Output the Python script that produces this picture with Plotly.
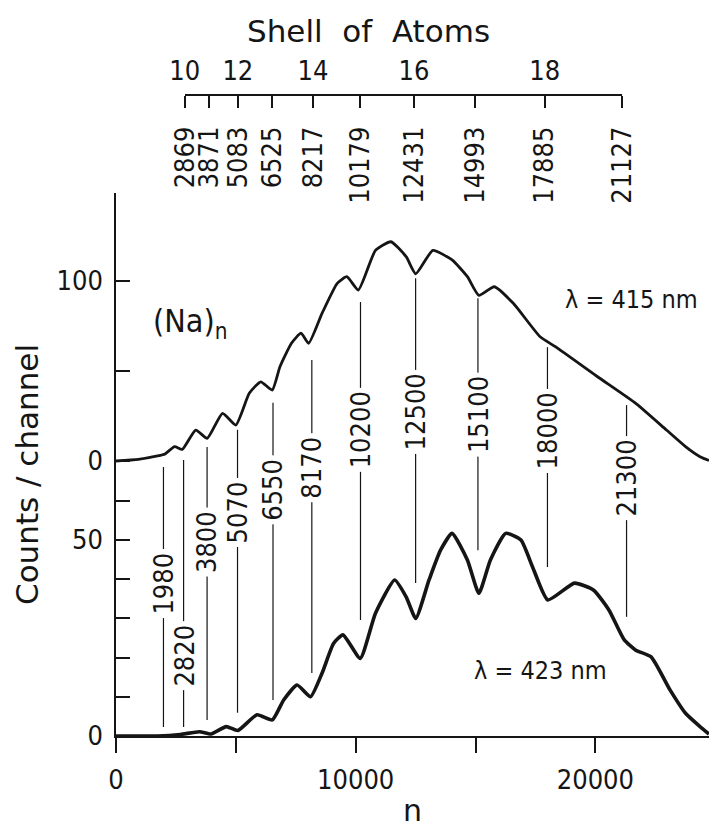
import plotly.graph_objects as go

# ---------------- data ----------------
# lambda = 415 nm spectrum (upper panel, counts/channel)
upper_n = [0, 930, 1730, 2045, 2445, 2765, 3325, 3805, 4445, 5000, 5560, 6040,
           6515, 6840, 7320, 7720, 8035, 8595, 9230, 9630, 10110, 10825, 11470,
           12105, 12505, 13220, 14020, 14660, 15140, 15780, 16575, 17695, 18330,
           20090, 21685, 22965, 23760, 24365, 24740]
upper_counts = [0, 0.9, 2.8, 3.9, 8, 6.5, 17.2, 12.6, 26.5, 20, 37.6, 44,
                39.4, 52.4, 65.4, 71, 65.4, 82, 98.7, 102.4, 95, 117, 121.8,
                113.5, 104, 117, 111.7, 102.4, 92, 96.8, 87.6, 69, 63.5,
                46.8, 32, 17.2, 8, 2.4, 0.3]

# lambda = 423 nm spectrum (lower panel, counts/channel)
lower_n = [0, 1725, 2690, 3485, 3965, 4600, 5085, 5880, 6520, 6995, 7555, 8115,
           8595, 9075, 9470, 10190, 10825, 11625, 12105, 12505, 13060, 13540,
           14020, 14660, 15140, 15620, 16260, 16895, 17375, 18015, 19130, 19930,
           20570, 21205, 21685, 22325, 23120, 23760, 24365, 24740]
lower_counts = [0, 0, 0.4, 1.1, 0.5, 2.4, 1.4, 5.4, 4.1, 9.2, 13, 10,
                16, 23.6, 25.8, 19.8, 31.3, 39.8, 35.5, 30, 39.8, 47.4,
                51.7, 44.9, 36.4, 44.9, 51.7, 50, 43.2, 34.7, 39, 37.2,
                32.1, 24.5, 21.9, 20.2, 11.7, 5.8, 2.4, 0.5]

# marked minima (n values)
marker_n = [1980, 2820, 3800, 5070, 6550, 8170, 10200, 12500, 15100, 18000, 21300]

# top axis: closed-shell cluster sizes and shell numbers
shell_n = [2869, 3871, 5083, 6525, 8217, 10179, 12431, 14993, 17885, 21127]
shell_label_n = [2869, 5083, 8217, 12431, 17885]
shell_number = [10, 12, 14, 16, 18]

# bottom / left axis ticks
x_ticks = [0, 5000, 10000, 15000, 20000]
x_tick_text = ["0", "", "10000", "", "20000"]
lower_ticks = [0, 10, 20, 30, 40, 50, 60]
lower_tick_text = ["0", "", "", "", "", "50", ""]
upper_ticks = [0, 50, 100]
upper_tick_text = ["0", "", "100"]

# ---------------- layout of marker lines (lower-axis units) ----------------
marker_top = [68.6, 70.4, 73.7, 78.1, 85.0, 95.9, 110.7, 116.8, 111.7, 99.2, 84.4]
marker_bottom = [2.3, 2.3, 4.1, 5.9, 9.2, 16.1, 29.6, 39.0, 47.4, 43.1, 30.4]
marker_label_y = [39.0, 20.4, 49.5, 56.9, 62.8, 68.4, 78.1, 82.7, 82.1, 77.8, 65.8]

FONT = "DejaVu Sans Condensed, DejaVu Sans, sans-serif"
TITLE_FONT = "DejaVu Sans, sans-serif"
INK = "#151515"
X_MAX = 24740
NUM = 27

fig = go.Figure()

fig.add_trace(go.Scatter(x=upper_n, y=upper_counts, xaxis="x", yaxis="y2",
                         mode="lines",
                         line=dict(color=INK, width=2.8, shape="spline",
                                   smoothing=0.5),
                         hoverinfo="skip"))
fig.add_trace(go.Scatter(x=lower_n, y=lower_counts, xaxis="x", yaxis="y",
                         mode="lines",
                         line=dict(color=INK, width=3.6, shape="spline",
                                   smoothing=0.5),
                         hoverinfo="skip"))

mx, my = [], []
for n, t, b in zip(marker_n, marker_top, marker_bottom):
    mx += [n, n, None]
    my += [b, t, None]
fig.add_trace(go.Scatter(x=mx, y=my, xaxis="x", yaxis="y", mode="lines",
                         line=dict(color=INK, width=1.2), hoverinfo="skip"))

# invisible traces so the top axes are drawn
fig.add_trace(go.Scatter(x=shell_n, y=[0] * len(shell_n), xaxis="x2", yaxis="y",
                         mode="markers", marker=dict(opacity=0), hoverinfo="skip"))
fig.add_trace(go.Scatter(x=shell_label_n, y=[0] * len(shell_label_n), xaxis="x3",
                         yaxis="y", mode="markers", marker=dict(opacity=0),
                         hoverinfo="skip"))

W, H = 709, 834
L, R, T, B = 116, 0, 95, 98
plot_w = W - L - R
plot_h = H - T - B
y_dom_top = (736 - 193) / plot_h
top_dom = [(2869 - 1) / X_MAX, (21127 + 1) / X_MAX]

axis_common = dict(showgrid=False, zeroline=False, showline=True,
                   linecolor=INK, linewidth=1.5, tickcolor=INK, tickwidth=1.5,
                   automargin=False)

fig.update_layout(
    width=W, height=H,
    margin=dict(l=L, r=R, t=T, b=B, autoexpand=False),
    showlegend=False,
    plot_bgcolor="rgba(0,0,0,0)", paper_bgcolor="white",
    font=dict(family=FONT, size=NUM, color=INK),
    xaxis=dict(range=[0, X_MAX], domain=[0, 1], anchor="y",
               tickmode="array", tickvals=x_ticks, ticktext=x_tick_text,
               ticks="outside", ticklen=15, ticklabelstandoff=4,
               title=dict(text="n", font=dict(size=30, family=TITLE_FONT),
                          standoff=6),
               **axis_common),
    yaxis=dict(range=[0, (736 - 193) / 3.92], domain=[0, y_dom_top], anchor="x",
               tickmode="array", tickvals=lower_ticks, ticktext=lower_tick_text,
               ticks="inside", ticklen=14, ticklabelstandoff=6,
               **axis_common),
    yaxis2=dict(range=[-(736 - 461) / 1.8, (461 - 193) / 1.8], overlaying="y",
                anchor="x", side="left",
                tickmode="array", tickvals=upper_ticks, ticktext=upper_tick_text,
                ticks="inside", ticklen=14, ticklabelstandoff=6,
                **axis_common),
    xaxis2=dict(range=[2869 - 1, 21127 + 1], domain=top_dom, anchor="free",
                position=1, side="bottom",
                tickmode="array", tickvals=shell_n,
                ticktext=[str(v) for v in shell_n],
                ticks="outside", ticklen=12, tickangle=-90,
                ticklabelstandoff=8, **axis_common),
    xaxis3=dict(range=[2869 - 1, 21127 + 1], domain=top_dom, anchor="free",
                position=1, side="top", showline=False, showgrid=False,
                zeroline=False, ticks="", automargin=False,
                tickmode="array", tickvals=shell_label_n,
                ticktext=[str(v) for v in shell_number],
                ticklabelstandoff=10),
)

ann = []
for n, yl in zip(marker_n, marker_label_y):
    ann.append(dict(x=n, y=yl, xref="x", yref="y", text=str(n), textangle=-90,
                    showarrow=False, bgcolor="white", borderpad=3,
                    xanchor="center", yanchor="middle", font=dict(size=NUM)))
ann.append(dict(x=3087, y=76.7, xref="x", yref="y2", text="(Na)<sub>n</sub>",
                showarrow=False, xanchor="center", yanchor="middle",
                font=dict(size=32)))
ann.append(dict(x=21527, y=90, xref="x", yref="y2", text="λ = 415 nm",
                showarrow=False, xanchor="center", yanchor="middle",
                font=dict(size=25)))
ann.append(dict(x=17730, y=16.6, xref="x", yref="y", text="λ = 423 nm",
                showarrow=False, xanchor="center", yanchor="middle",
                font=dict(size=25)))
ann.append(dict(x=(368 - L) / plot_w, y=1 + (T - 31) / plot_h,
                xref="paper", yref="paper", text="Shell  of  Atoms",
                showarrow=False, xanchor="center", yanchor="middle",
                font=dict(size=31, family=TITLE_FONT)))
ann.append(dict(x=(27 - L) / plot_w, y=(736 - 475) / plot_h,
                xref="paper", yref="paper", text="Counts / channel",
                textangle=-90, showarrow=False, xanchor="center",
                yanchor="middle", font=dict(size=31, family=TITLE_FONT)))
fig.update_layout(annotations=ann)

fig.write_html("out.html",
               config={"displayModeBar": False},
               post_script="document.body.style.margin='0';"
                           "document.body.style.overflow='hidden';")
